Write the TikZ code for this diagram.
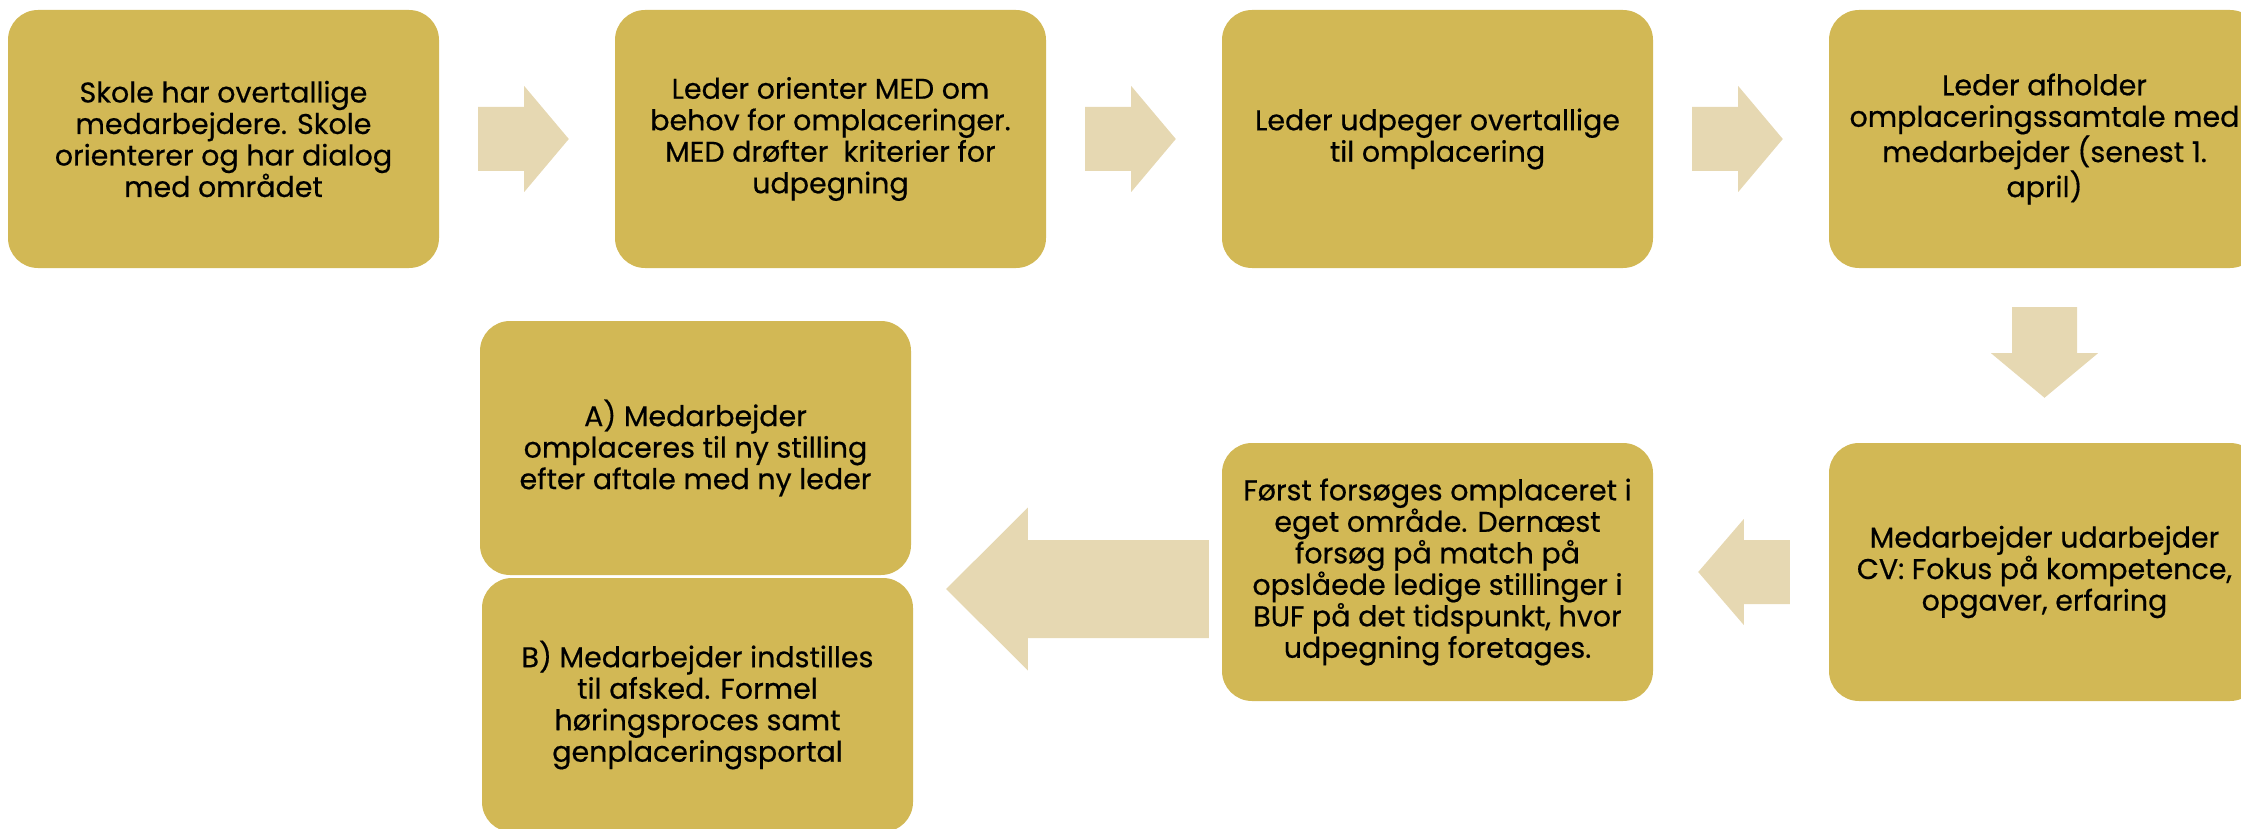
\documentclass[tikz,border=0pt]{standalone}
\usepackage{fontspec}
\setmainfont{Poppins}[FakeBold=0.5]
\usetikzlibrary{calc}
\definecolor{boxgold}{HTML}{D2B855}
\definecolor{arrowbeige}{HTML}{E6D8B2}
\tikzset{
  stepbox/.style={fill=boxgold, rounded corners=30pt, minimum width=431pt, minimum height=258pt,
    inner sep=0pt, align=center, text=black,
    font=\fontsize{28.5}{31.5}\selectfont},
  blockarrow/.style={fill=arrowbeige}
}
\begin{document}
\begin{tikzpicture}[x=1pt,y=-1pt]
\useasboundingbox (0,0) rectangle (2241,829);
\clip (0,0) rectangle (2241,829);
% boxes
\node[stepbox] (b1) at (223.5,139) {Skole har overtallige\\medarbejdere. Skole\\orienterer og har dialog\\med området};
\node[stepbox] (b2) at (830.5,139) {Leder orienter MED om\\behov for omplaceringer.\\MED drøfter\ \ kriterier for\\udpegning};
\node[stepbox] (b3) at (1437.5,139) {Leder udpeger overtallige\\til omplacering};
\node[stepbox] (b4) at (2044.5,139) {Leder afholder\\omplaceringssamtale med\\medarbejder (senest 1.\\april)};
\node[stepbox] (b5) at (2044.5,572) {Medarbejder udarbejder\\CV: Fokus på kompetence,\\opgaver, erfaring};
\node[stepbox] (b6) at (1437.5,572) {Først forsøges omplaceret i\\eget område. Dernæst\\forsøg på match på\\opslåede ledige stillinger i\\BUF på det tidspunkt, hvor\\udpegning foretages.};
\node[stepbox, minimum height=254pt] (bA) at (695.5,448) {A) Medarbejder\\omplaceres til ny stilling\\efter aftale med ny leder};
\node[stepbox, minimum height=254pt] (bB) at (697.5,705) {B) Medarbejder indstilles\\til afsked. Formel\\høringsproces samt\\genplaceringsportal};
% right arrows, row 1
\foreach \s/\t in {b1/b2, b2/b3, b3/b4}{
  \coordinate (s) at ($(\s.east)+(39,0)$);
  \coordinate (t) at ($(\t.west)+(-46,0)$);
  \fill[blockarrow] ($(s)+(0,-32)$) -- ($(s)+(46,-32)$) -- ($(s)+(46,-53)$) -- (t)
     -- ($(s)+(46,53)$) -- ($(s)+(46,32)$) -- ($(s)+(0,32)$) -- cycle;
}
% down arrow
\coordinate (ds) at ($(b4.south)+(0,39)$);
\coordinate (dt) at ($(b5.north)+(0,-45)$);
\fill[blockarrow] ($(ds)+(-32.5,0)$) -- ($(ds)+(32.5,0)$) -- ($(ds)+(32.5,46)$) -- ($(ds)+(53.5,46)$)
   -- (dt) -- ($(ds)+(-53.5,46)$) -- ($(ds)+(-32.5,46)$) -- cycle;
% left arrow row 2
\coordinate (ls) at ($(b5.west)+(-39,0)$);
\coordinate (lt) at ($(b6.east)+(45,0)$);
\fill[blockarrow] ($(ls)+(0,-32)$) -- ($(ls)+(-46,-32)$) -- ($(ls)+(-46,-53)$) -- (lt)
   -- ($(ls)+(-46,53)$) -- ($(ls)+(-46,32)$) -- ($(ls)+(0,32)$) -- cycle;
% big left arrow
\coordinate (bs) at ($(b6.west)+(-13,17)$);
\coordinate (bt) at ($(bA.east |- bs)+(35,0)$);
\fill[blockarrow] ($(bs)+(0,-49)$) -- ($(bs)+(-181,-49)$) -- ($(bs)+(-181,-81.5)$) -- (bt)
   -- ($(bs)+(-181,81.5)$) -- ($(bs)+(-181,49)$) -- ($(bs)+(0,49)$) -- cycle;
\end{tikzpicture}
\end{document}
